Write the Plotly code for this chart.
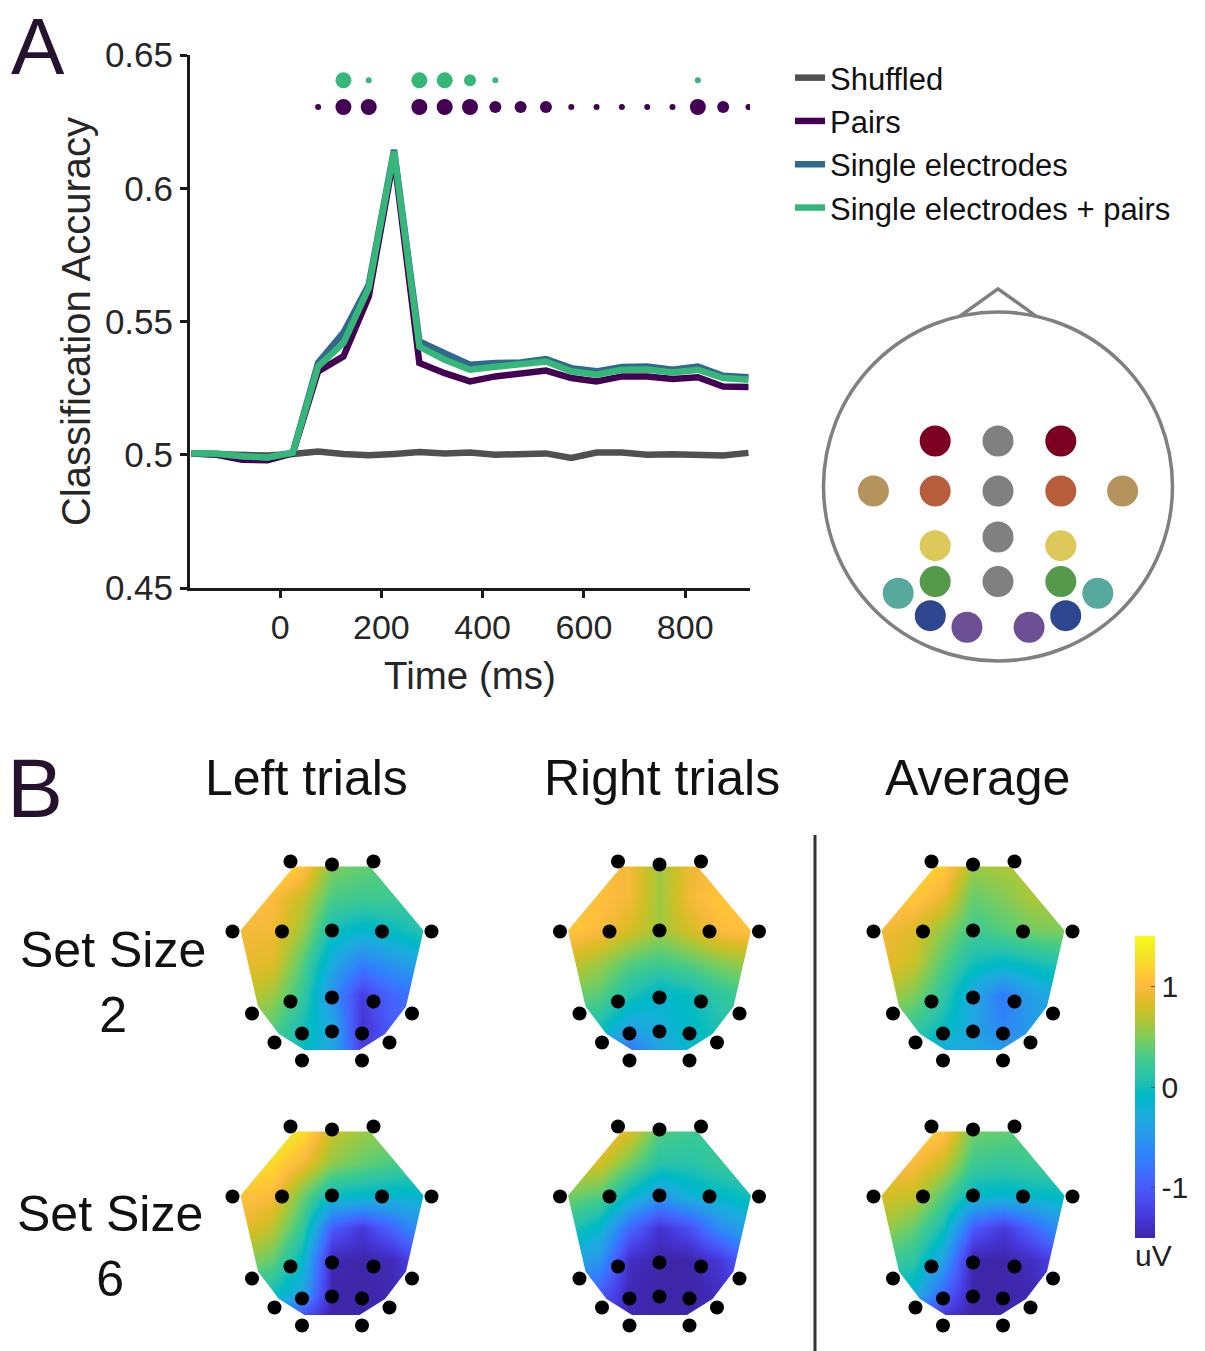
import plotly.graph_objects as go

W, H = 1205, 1351
FONT = "Liberation Sans, Arial, Helvetica, sans-serif"

# ---------------- Panel A data ----------------
time_ms = [-175, -125, -75, -25, 25, 75, 125, 175, 225, 275, 325, 375,
           425, 475, 525, 575, 625, 675, 725, 775, 825, 875, 925]
acc_shuffled = [0.5005, 0.5003, 0.4998, 0.4997, 0.5003, 0.5012, 0.5003, 0.4998,
                0.5003, 0.5010, 0.5005, 0.5008, 0.5000, 0.5000, 0.5005, 0.4988,
                0.5008, 0.5008, 0.5000, 0.5002, 0.5000, 0.4997, 0.5007]
acc_pairs = [0.5005, 0.5000, 0.4981, 0.4979, 0.5005, 0.5313, 0.5369, 0.5594,
             0.6120, 0.5344, 0.5306, 0.5275, 0.5294, 0.5304, 0.5316, 0.5288,
             0.5275, 0.5294, 0.5294, 0.5284, 0.5291, 0.5256, 0.5254]
acc_single = [0.5005, 0.5003, 0.4994, 0.4990, 0.5008, 0.5345, 0.5458, 0.5638,
              0.6144, 0.5425, 0.5381, 0.5338, 0.5344, 0.5346, 0.5359, 0.5325,
              0.5313, 0.5329, 0.5331, 0.5319, 0.5331, 0.5296, 0.5291]
acc_single_pairs = [0.5006, 0.5005, 0.4994, 0.4990, 0.5008, 0.5331, 0.5419, 0.5626,
                    0.6138, 0.5406, 0.5356, 0.5319, 0.5330, 0.5338, 0.5350, 0.5313,
                    0.5300, 0.5319, 0.5320, 0.5309, 0.5319, 0.5288, 0.5281]
series_names = ["Shuffled", "Pairs", "Single electrodes", "Single electrodes + pairs"]

# significance markers (level 1 = small, 2 = medium, 3 = large)
sig_pairs_time = [75, 125, 175, 275, 325, 375, 425, 475, 525, 575, 625, 675,
                  725, 775, 825, 875, 925]
sig_pairs_level = [1, 3, 3, 3, 3, 3, 2, 2, 2, 1, 1, 1, 1, 1, 3, 2, 1]
sig_both_time = [125, 175, 275, 325, 375, 425, 825]
sig_both_level = [3, 1, 3, 3, 2, 1, 1]

x_ticks = [0, 200, 400, 600, 800]
y_ticks = [0.45, 0.5, 0.55, 0.6, 0.65]

# head montage (panel A right)
head_labels = ["F3", "Fz", "F4", "T7", "C3", "Cz", "C4", "T8", "P3", "Pz", "P4",
               "PO3", "POz", "PO4", "P7", "P8", "PO7", "PO8", "O1", "O2"]
head_x = [-0.36, 0.0, 0.36, -0.714, -0.36, 0.0, 0.36, 0.714, -0.36, 0.0, 0.36,
          -0.36, 0.0, 0.36, -0.572, 0.572, -0.388, 0.388, -0.178, 0.178]
head_y = [0.261, 0.261, 0.261, -0.026, -0.026, -0.026, -0.026, -0.026, -0.339, -0.289, -0.339,
          -0.545, -0.545, -0.545, -0.612, -0.612, -0.74, -0.74, -0.807, -0.807]
head_colors = ["#7b0022", "#808080", "#7b0022", "#b5935c", "#b85d3b", "#808080", "#b85d3b", "#b5935c",
               "#ddc95a", "#808080", "#ddc95a", "#55994b", "#808080", "#55994b",
               "#57a89d", "#57a89d", "#2e4690", "#2e4690", "#6d4f96", "#6d4f96"]

# ---------------- Panel B data ----------------
topo_electrode_x = [-0.83, 0.0, 0.83, -1.99, -1.0, 0.0, 1.0, 1.99, -0.83, 0.0, 0.83,
                    -1.6, 1.6, -0.6, 0.0, 0.6, -1.15, 1.15, -0.6, 0.6]
topo_electrode_y = [1.38, 1.32, 1.38, -0.02, -0.02, 0.0, -0.02, -0.02, -1.42, -1.34, -1.42,
                    -1.66, -1.66, -2.06, -2.02, -2.06, -2.24, -2.24, -2.6, -2.6]
topo_outline_x = [-0.76, 0.76, 1.83, 1.48, 1.06, 0.55, -0.55, -1.06, -1.48, -1.83]
topo_outline_y = [1.28, 1.28, 0.0, -1.52, -2.07, -2.39, -2.39, -2.07, -1.52, 0.0]

grid_x = [-1.8, -1.2, -0.6, 0.0, 0.6, 1.2, 1.8]
grid_y = [1.3, 0.65, 0.0, -0.65, -1.3, -1.95, -2.4]

left_ss2 = [
    [1.40, 1.35, 1.10, 0.50, 0.40, 0.35, 0.30],
    [1.10, 1.00, 0.75, 0.30, 0.25, 0.25, 0.20],
    [0.95, 0.95, 0.60, 0.00, -0.15, -0.05, 0.10],
    [0.90, 0.85, 0.35, -0.30, -0.70, -0.50, -0.35],
    [0.75, 0.60, 0.20, -0.55, -1.25, -0.90, -0.80],
    [0.45, 0.35, 0.00, -0.30, -1.35, -1.00, -0.80],
    [0.30, 0.25, -0.05, -0.35, -1.20, -1.00, -0.80],
]
right_ss2 = [
    [1.00, 1.00, 0.95, 0.60, 0.90, 1.00, 1.00],
    [1.05, 1.05, 0.95, 0.60, 0.95, 1.10, 1.10],
    [1.10, 1.00, 0.80, 0.60, 0.80, 1.00, 1.05],
    [0.75, 0.60, 0.35, 0.25, 0.35, 0.50, 0.60],
    [0.45, 0.35, 0.05, -0.15, -0.05, 0.15, 0.30],
    [0.15, 0.00, -0.40, -0.25, -0.10, 0.05, 0.15],
    [-0.20, -0.40, -0.80, -0.35, -0.15, -0.05, 0.00],
]
avg_ss2 = [
    [1.30, 1.25, 1.15, 0.60, 0.65, 0.70, 0.70],
    [1.10, 1.10, 0.90, 0.40, 0.50, 0.65, 0.65],
    [0.95, 0.85, 0.55, 0.25, 0.35, 0.45, 0.50],
    [0.90, 0.75, 0.35, 0.00, -0.10, 0.00, 0.10],
    [0.65, 0.50, 0.15, -0.35, -0.75, -0.40, -0.30],
    [0.30, 0.20, -0.05, -0.35, -0.65, -0.45, -0.30],
    [0.10, 0.00, -0.30, -0.30, -0.45, -0.40, -0.30],
]
left_ss6 = [
    [1.50, 1.45, 1.30, 0.75, 0.60, 0.55, 0.50],
    [1.35, 1.25, 0.95, 0.55, 0.40, 0.30, 0.25],
    [1.05, 1.00, 0.45, -0.05, -0.10, -0.15, -0.15],
    [0.90, 0.70, 0.20, -1.00, -1.30, -0.90, -0.50],
    [0.55, 0.40, -0.10, -1.45, -1.50, -1.45, -1.10],
    [0.15, 0.00, -0.35, -1.50, -1.50, -1.45, -1.30],
    [-0.30, -0.50, -1.10, -1.50, -1.50, -1.45, -1.30],
]
right_ss6 = [
    [1.10, 1.05, 0.85, 0.35, 0.25, 0.20, 0.20],
    [0.85, 0.80, 0.45, 0.10, 0.10, 0.20, 0.25],
    [0.45, 0.35, -0.10, -0.45, -0.20, -0.10, 0.00],
    [0.10, -0.15, -0.90, -1.35, -1.10, -0.60, -0.30],
    [-0.30, -0.50, -1.40, -1.50, -1.50, -1.30, -0.90],
    [-0.80, -1.00, -1.45, -1.50, -1.50, -1.40, -1.20],
    [-1.10, -1.20, -1.45, -1.50, -1.50, -1.45, -1.30],
]
avg_ss6 = [
    [1.30, 1.25, 1.10, 0.45, 0.40, 0.35, 0.35],
    [1.05, 1.00, 0.75, 0.25, 0.20, 0.25, 0.25],
    [0.80, 0.75, 0.35, -0.10, -0.15, -0.10, -0.05],
    [0.60, 0.40, 0.00, -1.00, -1.30, -0.90, -0.50],
    [0.25, 0.15, -0.40, -1.50, -1.50, -1.40, -1.10],
    [-0.10, -0.20, -0.90, -1.50, -1.50, -1.45, -1.30],
    [-0.50, -0.70, -1.30, -1.50, -1.50, -1.45, -1.30],
]
column_titles = ["Left trials", "Right trials", "Average"]
row_titles = ["Set Size<br>2", "Set Size<br>6"]
colorbar_ticks = [-1, 0, 1]
colorbar_ticktext = ["-1", "0", "1"]

# parula colormap (64 entries)
parula = [
    (0.2422, 0.1504, 0.6603), (0.2504, 0.1650, 0.7076), (0.2578, 0.1818, 0.7511), (0.2647, 0.1978, 0.7952),
    (0.2706, 0.2147, 0.8364), (0.2751, 0.2342, 0.8710), (0.2783, 0.2559, 0.8991), (0.2803, 0.2782, 0.9221),
    (0.2813, 0.3006, 0.9414), (0.2810, 0.3228, 0.9579), (0.2795, 0.3447, 0.9717), (0.2760, 0.3667, 0.9829),
    (0.2699, 0.3892, 0.9906), (0.2602, 0.4123, 0.9952), (0.2440, 0.4358, 0.9988), (0.2206, 0.4603, 0.9973),
    (0.1963, 0.4847, 0.9892), (0.1834, 0.5074, 0.9798), (0.1786, 0.5289, 0.9682), (0.1764, 0.5499, 0.9520),
    (0.1687, 0.5703, 0.9359), (0.1540, 0.5902, 0.9218), (0.1460, 0.6091, 0.9079), (0.1380, 0.6276, 0.8973),
    (0.1248, 0.6459, 0.8883), (0.1113, 0.6635, 0.8763), (0.0952, 0.6798, 0.8598), (0.0689, 0.6948, 0.8394),
    (0.0297, 0.7082, 0.8163), (0.0036, 0.7203, 0.7917), (0.0067, 0.7312, 0.7660), (0.0433, 0.7411, 0.7394),
    (0.0964, 0.7500, 0.7120), (0.1408, 0.7584, 0.6842), (0.1717, 0.7670, 0.6554), (0.1938, 0.7758, 0.6251),
    (0.2161, 0.7843, 0.5923), (0.2470, 0.7918, 0.5567), (0.2906, 0.7973, 0.5188), (0.3406, 0.8008, 0.4789),
    (0.3909, 0.8029, 0.4354), (0.4456, 0.8024, 0.3909), (0.5044, 0.7993, 0.3480), (0.5616, 0.7942, 0.3045),
    (0.6174, 0.7876, 0.2612), (0.6720, 0.7793, 0.2227), (0.7242, 0.7698, 0.1910), (0.7738, 0.7598, 0.1646),
    (0.8203, 0.7498, 0.1535), (0.8634, 0.7406, 0.1596), (0.9035, 0.7330, 0.1774), (0.9393, 0.7288, 0.2100),
    (0.9728, 0.7298, 0.2394), (0.9956, 0.7434, 0.2371), (0.9970, 0.7659, 0.2199), (0.9952, 0.7893, 0.2028),
    (0.9892, 0.8136, 0.1885), (0.9786, 0.8386, 0.1766), (0.9676, 0.8639, 0.1643), (0.9610, 0.8890, 0.1537),
    (0.9597, 0.9135, 0.1423), (0.9628, 0.9373, 0.1265), (0.9691, 0.9606, 0.1064), (0.9769, 0.9839, 0.0805),
]
parula_scale = [[i / (len(parula) - 1), "rgb(%d,%d,%d)" % tuple(round(c * 255) for c in rgb)]
                for i, rgb in enumerate(parula)]

# ---------------- helpers / layout constants ----------------
def fx(p):
    return p / W


def fy(p):
    return 1 - p / H


LINE_COLORS = ["#505050", "#440154", "#31688e", "#35b779"]
SIG_SIZE = {1: 6, 2: 12, 3: 16}
SIG_Y_BOTH = 0.6405
SIG_Y_PAIRS = 0.6305

fig = go.Figure()

for name, vals, col in zip(series_names, [acc_shuffled, acc_pairs, acc_single, acc_single_pairs], LINE_COLORS):
    fig.add_trace(go.Scatter(x=time_ms, y=vals, mode="lines", name=name,
                             line=dict(color=col, width=6.5), xaxis="x", yaxis="y"))

fig.add_trace(go.Scatter(x=sig_both_time, y=[SIG_Y_BOTH] * len(sig_both_time), mode="markers",
                         marker=dict(color="#35b779", opacity=1, size=[SIG_SIZE[l] for l in sig_both_level],
                                     line=dict(width=0)),
                         showlegend=False, xaxis="x", yaxis="y"))
fig.add_trace(go.Scatter(x=sig_pairs_time, y=[SIG_Y_PAIRS] * len(sig_pairs_time), mode="markers",
                         marker=dict(color="#440154", opacity=1, size=[SIG_SIZE[l] for l in sig_pairs_level],
                                     line=dict(width=0)),
                         showlegend=False, xaxis="x", yaxis="y"))

# head diagram
fig.add_trace(go.Scatter(x=head_x, y=head_y, mode="markers", text=head_labels, hoverinfo="text",
                         marker=dict(color=head_colors, opacity=1, size=31, line=dict(width=0)),
                         showlegend=False, xaxis="x2", yaxis="y2"))

# topomaps
maps = [left_ss2, right_ss2, avg_ss2, left_ss6, right_ss6, avg_ss6]
map_centers = [(332, 930.5), (659.5, 930.5), (973, 930.5),
               (332, 1195.5), (659.5, 1195.5), (973, 1195.5)]
UNIT = 50.0
XR = (-2.4, 2.4)
YR = (-2.9, 1.8)

mask_x = [-2.2, 2.2, 2.2, -2.2, -2.2, None] + topo_outline_x[::-1] + [topo_outline_x[-1]]
mask_y = [1.72, 1.72, -2.72, -2.72, 1.72, None] + topo_outline_y[::-1] + [topo_outline_y[-1]]

layout_axes = {}
for k, (z, (cx, cy)) in enumerate(zip(maps, map_centers)):
    ax = k + 3
    xa, ya = "x%d" % ax, "y%d" % ax
    fig.add_trace(go.Heatmap(x=grid_x, y=grid_y, z=z, zsmooth="best", coloraxis="coloraxis",
                             xaxis=xa, yaxis=ya, hoverinfo="skip"))
    fig.add_trace(go.Scatter(x=mask_x, y=mask_y, mode="lines", fill="toself", fillcolor="white",
                             line=dict(width=0, color="white"), hoverinfo="skip", showlegend=False,
                             xaxis=xa, yaxis=ya))
    fig.add_trace(go.Scatter(x=topo_electrode_x, y=topo_electrode_y, mode="markers",
                             marker=dict(color="black", size=14, line=dict(width=0)),
                             hoverinfo="skip", showlegend=False, xaxis=xa, yaxis=ya))
    layout_axes["xaxis%d" % ax] = dict(domain=[fx(cx + XR[0] * UNIT), fx(cx + XR[1] * UNIT)], range=list(XR),
                                       visible=False, anchor=ya, fixedrange=True, automargin=False)
    layout_axes["yaxis%d" % ax] = dict(domain=[fy(cy - YR[0] * UNIT), fy(cy - YR[1] * UNIT)], range=list(YR),
                                       visible=False, anchor=xa, fixedrange=True, automargin=False)

# head axes geometry
HC_X, HC_Y, HR = 998, 486.5, 174.5
HXR = (-1.15, 1.15)
HYR = (-1.15, 1.3)

AXC = "#1a1a1a"
TICKC = "#262626"

fig.update_layout(
    template="none",
    width=W, height=H, autosize=False,
    margin=dict(l=0, r=0, t=0, b=0, pad=0, autoexpand=False),
    paper_bgcolor="white", plot_bgcolor="white",
    font=dict(family=FONT, color="#111111"),
    xaxis=dict(domain=[fx(190), fx(750)], range=[-178, 928], anchor="y", automargin=False,
               showline=True, linewidth=3, linecolor=AXC, ticks="outside", ticklen=7, tickwidth=3,
               tickcolor=AXC, tickvals=x_ticks, tickfont=dict(size=34, color=TICKC),
               showgrid=False, zeroline=False,
               title=dict(text="Time (ms)", font=dict(size=38.5, color=TICKC), standoff=18)),
    yaxis=dict(domain=[fy(588), fy(55)], range=[0.45, 0.65], anchor="x", automargin=False,
               showline=True, linewidth=3, linecolor=AXC, ticks="outside", ticklen=7, tickwidth=3,
               tickcolor=AXC, tickvals=y_ticks, tickfont=dict(size=35, color=TICKC),
               showgrid=False, zeroline=False,
               title=dict(text="Classification Accuracy", font=dict(size=40, color=TICKC), standoff=2)),
    xaxis2=dict(domain=[fx(HC_X + HXR[0] * HR), fx(HC_X + HXR[1] * HR)], range=list(HXR),
                visible=False, anchor="y2", fixedrange=True, automargin=False),
    yaxis2=dict(domain=[fy(HC_Y - HYR[0] * HR), fy(HC_Y - HYR[1] * HR)], range=list(HYR),
                visible=False, anchor="x2", fixedrange=True, automargin=False),
    legend=dict(x=fx(790), y=fy(51), xanchor="left", yanchor="top", font=dict(size=31, color="#111111"),
                bgcolor="rgba(0,0,0,0)", borderwidth=0, tracegroupgap=0),
    coloraxis=dict(colorscale=parula_scale, cmin=-1.5, cmax=1.5,
                   colorbar=dict(x=fx(1135), xanchor="left", xpad=0, y=fy(936), yanchor="top", ypad=0,
                                 len=340, lenmode="pixels", thickness=20, thicknessmode="pixels",
                                 tickvals=colorbar_ticks, ticktext=colorbar_ticktext, ticks="inside",
                                 ticklen=4, tickcolor="#555555", tickfont=dict(size=30, color="#222222"),
                                 outlinewidth=0,
                                 title=dict(text="uV", side="bottom", font=dict(size=30, color="#222222")))),
    showlegend=True,
    **layout_axes,
)

shapes = [
    dict(type="circle", xref="x2", yref="y2", x0=-1, y0=-1, x1=1, y1=1,
         line=dict(color="#808080", width=3.5)),
    dict(type="path", xref="x2", yref="y2", path="M -0.22 0.975 L 0 1.133 L 0.22 0.975",
         line=dict(color="#808080", width=3.5)),
    dict(type="line", xref="paper", yref="paper", x0=fx(815), x1=fx(815), y0=0, y1=fy(835),
         line=dict(color="#333333", width=3)),
]
fig.update_layout(shapes=shapes)

annotations = [
    dict(text="A", x=fx(38), y=1.0, yanchor="top", font=dict(size=80, color="#24122e")),
    dict(text="B", x=fx(35), y=fy(788), yanchor="middle", font=dict(size=84, color="#24122e")),
]
for t, cx in zip(column_titles, [306, 662, 977]):
    annotations.append(dict(text=t, x=fx(cx), y=fy(778), yanchor="middle", font=dict(size=50, color="#111111")))
for t, (cx, cy) in zip(row_titles, [(113, 982), (110, 1246)]):
    annotations.append(dict(text=t, x=fx(cx), y=fy(cy), yanchor="middle", font=dict(size=50, color="#111111")))
for a in annotations:
    a.update(xref="paper", yref="paper", showarrow=False, xanchor="center")
fig.update_layout(annotations=annotations)

fig.write_html("out.html", config={"displayModeBar": False},
               post_script="document.body.style.margin='0';document.body.style.overflow='hidden';")
